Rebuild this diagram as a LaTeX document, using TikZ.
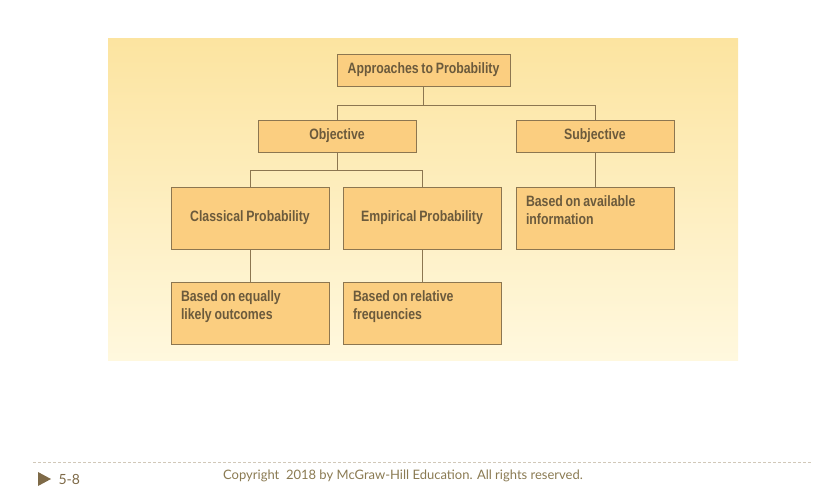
\documentclass[tikz,border=0pt]{standalone}
\usepackage{fontspec}
\newfontfamily\boxfont[FakeStretch=0.82, WordSpace=0.8]{Liberation Sans}
\newfontfamily\footfont{Lato}
\usetikzlibrary{calc}
\definecolor{boxfill}{HTML}{FBCE80}
\definecolor{boxline}{HTML}{8C7650}
\definecolor{boxtext}{HTML}{6B5A3C}
\definecolor{bgtop}{HTML}{FCE4A0}
\definecolor{bgbottom}{HTML}{FFF8DE}
\definecolor{foottext}{HTML}{8A7A52}
\tikzset{ b/.style = { rectangle % plain box
        , draw = boxline
        , fill = boxfill
        , line width = 1pt
        , text = boxtext
        , minimum height = 32pt
        , font = \boxfont\bfseries\fontsize{15}{18.5}\selectfont
        }
        , t/.style = { b % box with text at top left
        , text width = 138pt
        , align = flush left
        , inner xsep = 10pt
        , inner ysep = 8pt
        , text height = 11pt
        , text depth = 35pt
        }
        }

\begin{document}
\begin{tikzpicture}[x=1pt, y=-1pt,
        node_style/.style={b, minimum width=158pt},
        big_node_style/.style={b, minimum width=158pt, minimum height=62pt},
        note_node_style/.style={t, minimum width=158pt},
        edge_style/.style={draw=boxline, line width=1pt}]
        \useasboundingbox (0,0) rectangle (817,491);
        \shade [top color=bgtop, bottom color=bgbottom] (108,38) rectangle (738,360);

        \node [b, minimum width=173pt](n1) at (423.5,70) {Approaches to Probability};
        \node [node_style](n2) at (337,136) {Objective};
        \node [node_style](n3) at (595,136) {Subjective};
        \node [big_node_style](n4) at (250,218) {Classical Probability};
        \node [big_node_style](n5) at (422,218) {Empirical Probability};
        \node [note_node_style](n6) at (595,218) {Based on available\\information};
        \node [note_node_style](n7) at (250,313) {Based on equally\\likely outcomes};
        \node [note_node_style](n8) at (422,313) {Based on relative\\frequencies};

        \draw [edge_style] (n1.south) -- ++(0,19) -| (n2.north);
        \draw [edge_style] (n1.south) ++(0,19) -| (n3.north);
        \draw [edge_style] (n2.south) -- ++(0,18) -| (n4.north);
        \draw [edge_style] (n2.south) ++(0,18) -| (n5.north);
        \draw [edge_style] (n3) -- (n6);
        \draw [edge_style] (n4) -- (n7);
        \draw [edge_style] (n5) -- (n8);

        \coordinate (f1) at (33,462);
        \coordinate (f2) at (812,462);
        \draw [draw=boxline!40, line width=1pt, dash pattern=on 3pt off 2pt] (f1) -- (f2);
        \fill [boxline!90!black] (38,472) -- (51,479) -- (38,486) -- cycle;
        \node [text=boxline!90!black, font=\footfont\fontsize{14}{16}\selectfont, anchor=west](pg) at (55,479) {5-8};
        \node [text=foottext, font=\footfont\fontsize{13}{15}\selectfont](cp) at (403,476) {Copyright\ \ 2018 by McGraw-Hill Education. All rights reserved.};
\end{tikzpicture}
\end{document}
